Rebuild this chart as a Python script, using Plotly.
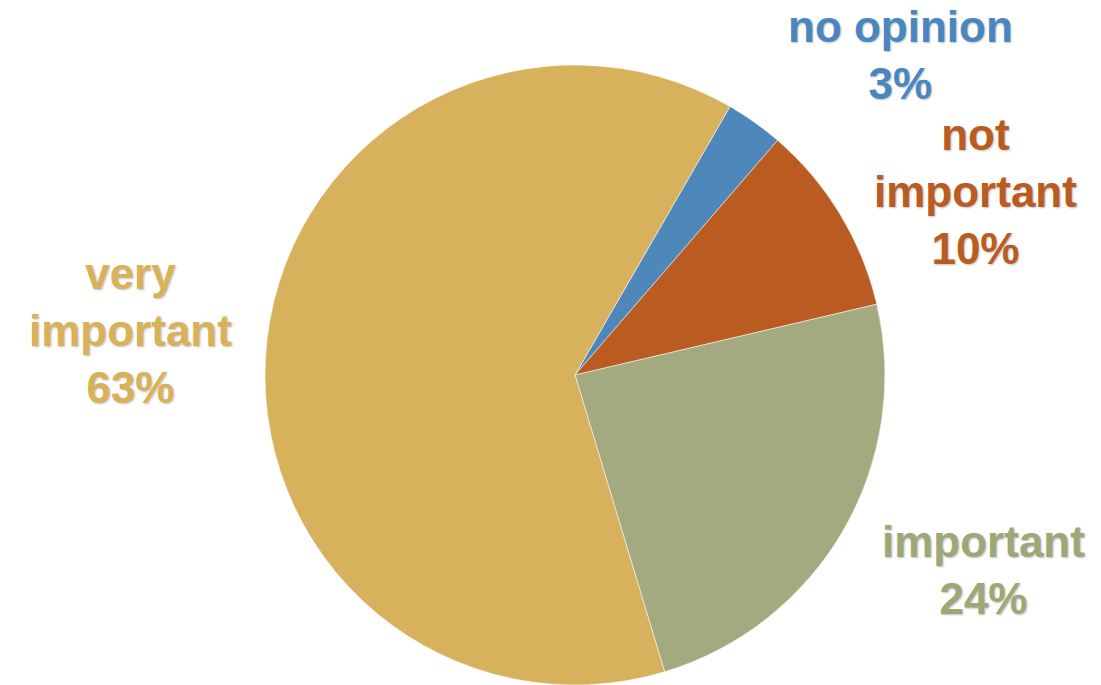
import plotly.graph_objects as go

categories = ["no opinion", "not important", "important", "very important"]
label_lines = ["no opinion", "not<br>important", "important", "very<br>important"]
values = [3, 10, 24, 63]
colors = ["#4E88BA", "#BA5B22", "#A3AA80", "#D7B15C"]
text_colors = ["#4A87C0", "#BA5B22", "#9DA878", "#D9B158"]

W, H = 1101, 685
cx, cy, r = 575, 375, 310

fig = go.Figure(go.Pie(
    labels=categories, values=values, sort=False, direction="clockwise",
    rotation=30, textinfo="none", hoverinfo="label+percent",
    marker=dict(colors=colors, line=dict(color="rgba(255,255,255,0.5)", width=1)),
    domain=dict(x=[(cx - r) / W, (cx + r) / W], y=[1 - (cy + r) / H, 1 - (cy - r) / H]),
    showlegend=False,
))

# label block centres (pixels)
label_pos = [(900, 55), (975, 192), (983, 570), (130, 330)]
total = sum(values)
for lab, v, col, (px, py) in zip(label_lines, values, text_colors, label_pos):
    fig.add_annotation(
        x=px / W, y=1 - py / H, xref="paper", yref="paper",
        text=f"{lab}<br>{round(100 * v / total)}%", showarrow=False,
        xanchor="center", yanchor="middle", align="center",
        font=dict(family="Liberation Sans, Arial", size=44, color=col,
                  weight="bold", shadow="1px 1px 2px rgba(0,0,0,0.25)"),
    )

fig.update_layout(width=W, height=H, margin=dict(l=0, r=0, t=0, b=0),
                  paper_bgcolor="white", plot_bgcolor="white")
fig.write_html("out.html")
